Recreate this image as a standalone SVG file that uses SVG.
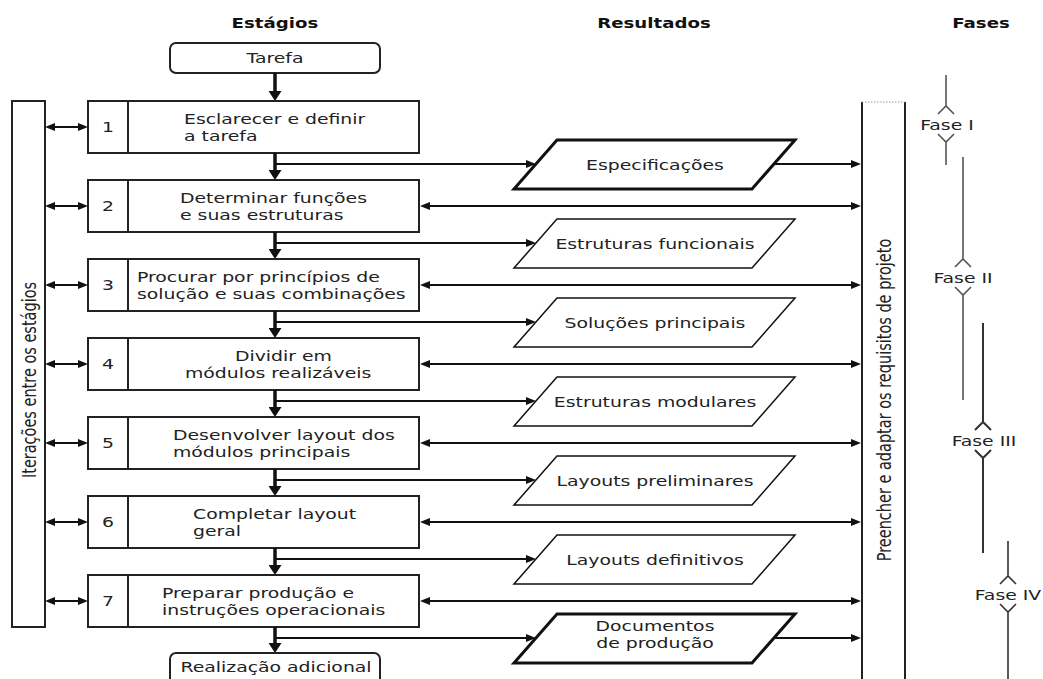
<svg xmlns="http://www.w3.org/2000/svg" width="1043" height="679" viewBox="0 0 1043 679">
<style>
.t{font-family:"DejaVu Sans",Verdana,sans-serif;font-size:14.5px;fill:#222}
.h{font-family:"DejaVu Sans",Verdana,sans-serif;font-size:14px;font-weight:bold;fill:#111}
.m{text-anchor:middle}
.box{fill:#fff;stroke:#222;stroke-width:2}
.col{fill:#fff;stroke:#222;stroke-width:2}
.par{fill:#fff;stroke:#111;stroke-width:1.5}
.parb{fill:#fff;stroke:#111;stroke-width:3}
.down{stroke:#111;stroke-width:3.5;fill:none}
.br{stroke:#111;stroke-width:2.2;fill:none}
.dbl{stroke:#111;stroke-width:2;fill:none}
.ph{stroke:#555;stroke-width:1.6;fill:none}
</style>
<defs>
<marker id="a" viewBox="0 0 10 8" refX="2" refY="4" markerWidth="10" markerHeight="8" markerUnits="userSpaceOnUse" orient="auto-start-reverse"><path d="M0,0 L10,4 L0,8 z" fill="#111"/></marker>
<marker id="b" viewBox="0 0 10 13" refX="2" refY="6.5" markerWidth="10" markerHeight="13" markerUnits="userSpaceOnUse" orient="auto"><path d="M0,0 L10,6.5 L0,13 z" fill="#111"/></marker>
</defs>

<g id="headers">
<text class="h m" transform="translate(275,28) scale(1.3,1)">Estágios</text>
<text class="h m" transform="translate(654,28) scale(1.3,1)">Resultados</text>
<text class="h m" transform="translate(981,28) scale(1.3,1)">Fases</text>
</g>

<g id="iteracoes">
<rect class="col" x="12" y="101" width="33" height="526"/>
<text class="t m" dominant-baseline="central" transform="translate(29,380) scale(1.3,1) rotate(-90)">Iterações entre os estágios</text>
</g>

<g id="requisitos">
<path d="M862,102 V690 M905,102 V690" stroke="#222" stroke-width="2" fill="none"/>
<path d="M862,102 H905" stroke="#999" stroke-width="1" stroke-dasharray="1.5,1.5" fill="none"/>
<text class="t m" dominant-baseline="central" transform="translate(884,400) scale(1.3,1) rotate(-90)">Preencher e adaptar os requisitos de projeto</text>
</g>

<g id="tarefa">
<rect class="box" x="170" y="43" width="210" height="30" rx="6"/>
<text class="t m" transform="translate(275,63) scale(1.3,1)">Tarefa</text>
</g>

<g id="step1">
<rect class="box" x="88" y="101" width="331" height="52"/><path d="M128,101 V153" stroke="#222" stroke-width="2"/>
<text class="t m" transform="translate(108,132) scale(1.3,1)">1</text>
<text class="t" transform="translate(184,124) scale(1.3,1)"><tspan x="0">Esclarecer e definir</tspan><tspan x="0" y="17">a tarefa</tspan></text>
</g>
<g id="step2">
<rect class="box" x="88" y="180" width="331" height="52"/><path d="M128,180 V232" stroke="#222" stroke-width="2"/>
<text class="t m" transform="translate(108,211) scale(1.3,1)">2</text>
<text class="t" transform="translate(180,203) scale(1.3,1)"><tspan x="0">Determinar funções</tspan><tspan x="0" y="17">e suas estruturas</tspan></text>
</g>
<g id="step3">
<rect class="box" x="88" y="259" width="331" height="52"/><path d="M128,259 V311" stroke="#222" stroke-width="2"/>
<text class="t m" transform="translate(108,290) scale(1.3,1)">3</text>
<text class="t" transform="translate(137,282) scale(1.3,1)"><tspan x="0">Procurar por princípios de</tspan><tspan x="0" y="17">solução e suas combinações</tspan></text>
</g>
<g id="step4">
<rect class="box" x="88" y="338" width="331" height="52"/><path d="M128,338 V390" stroke="#222" stroke-width="2"/>
<text class="t m" transform="translate(108,369) scale(1.3,1)">4</text>
<text class="t" transform="translate(235,361) scale(1.3,1)">Dividir em</text>
<text class="t" transform="translate(185,378) scale(1.3,1)">módulos realizáveis</text>
</g>
<g id="step5">
<rect class="box" x="88" y="417" width="331" height="52"/><path d="M128,417 V469" stroke="#222" stroke-width="2"/>
<text class="t m" transform="translate(108,448) scale(1.3,1)">5</text>
<text class="t" transform="translate(173,440) scale(1.3,1)"><tspan x="0">Desenvolver layout dos</tspan><tspan x="0" y="17">módulos principais</tspan></text>
</g>
<g id="step6">
<rect class="box" x="88" y="496" width="331" height="52"/><path d="M128,496 V548" stroke="#222" stroke-width="2"/>
<text class="t m" transform="translate(108,527) scale(1.3,1)">6</text>
<text class="t" transform="translate(193,519) scale(1.3,1)"><tspan x="0">Completar layout</tspan><tspan x="0" y="17">geral</tspan></text>
</g>
<g id="step7">
<rect class="box" x="88" y="575" width="331" height="52"/><path d="M128,575 V627" stroke="#222" stroke-width="2"/>
<text class="t m" transform="translate(108,606) scale(1.3,1)">7</text>
<text class="t" transform="translate(162,598) scale(1.3,1)"><tspan x="0">Preparar produção e</tspan><tspan x="0" y="17">instruções operacionais</tspan></text>
</g>

<g id="realizacao">
<rect class="box" x="170" y="653" width="210" height="40" rx="6"/>
<text class="t m" transform="translate(276,672) scale(1.3,1)">Realização adicional</text>
</g>

<g id="r1"><polygon class="parb" points="557,140 795,140 752,189 514,189"/><text class="t m" transform="translate(655,170) scale(1.3,1)">Especificações</text></g>
<g id="r2"><polygon class="par" points="557,219 795,219 752,268 514,268"/><text class="t m" transform="translate(655,249) scale(1.3,1)">Estruturas funcionais</text></g>
<g id="r3"><polygon class="par" points="557,298 795,298 752,347 514,347"/><text class="t m" transform="translate(655,328) scale(1.3,1)">Soluções principais</text></g>
<g id="r4"><polygon class="par" points="557,377 795,377 752,426 514,426"/><text class="t m" transform="translate(655,407) scale(1.3,1)">Estruturas modulares</text></g>
<g id="r5"><polygon class="par" points="557,456 795,456 752,505 514,505"/><text class="t m" transform="translate(655,486) scale(1.3,1)">Layouts preliminares</text></g>
<g id="r6"><polygon class="par" points="557,535 795,535 752,584 514,584"/><text class="t m" transform="translate(655,565) scale(1.3,1)">Layouts definitivos</text></g>
<g id="r7"><polygon class="parb" points="557,614 795,614 752,663 514,663"/><text class="t m" transform="translate(655,631) scale(1.3,1)"><tspan x="0">Documentos</tspan><tspan x="0" y="17">de produção</tspan></text></g>

<g id="fases">
<path class="ph" d="M946,75 V106 M938,114 L946,106 L954,114 M938,134 L946,142 L954,134 M946,142 V165"/>
<text class="t m" transform="translate(947,130) scale(1.3,1)">Fase I</text>
<path class="ph" d="M963,157 V259 M955,267 L963,259 L971,267 M955,287 L963,295 L971,287 M963,295 V400"/>
<text class="t m" transform="translate(963,283) scale(1.3,1)">Fase II</text>
<path class="ph" style="stroke:#333;stroke-width:2" d="M983,323 V422 M975,430 L983,422 L991,430 M975,450 L983,458 L991,450 M983,458 V553"/>
<text class="t m" transform="translate(984,446) scale(1.3,1)">Fase III</text>
<path class="ph" style="stroke:#333" d="M1008,541 V576 M1000,584 L1008,576 L1016,584 M1000,604 L1008,612 L1016,604 M1008,612 V690"/>
<text class="t m" transform="translate(1008,600) scale(1.3,1)">Fase IV</text>
</g>

<g id="connectors">
<path class="down" marker-end="url(#b)" d="M275,73 V93"/>
<path class="down" marker-end="url(#b)" d="M275,153 V172"/>
<path class="down" marker-end="url(#b)" d="M275,232 V251"/>
<path class="down" marker-end="url(#b)" d="M275,311 V330"/>
<path class="down" marker-end="url(#b)" d="M275,390 V409"/>
<path class="down" marker-end="url(#b)" d="M275,469 V488"/>
<path class="down" marker-end="url(#b)" d="M275,548 V567"/>
<path class="down" marker-end="url(#b)" d="M275,627 V645"/>

<path class="br" marker-end="url(#a)" d="M275,164 H528"/>
<path class="br" marker-end="url(#a)" d="M275,243 H528"/>
<path class="br" marker-end="url(#a)" d="M275,322 H528"/>
<path class="br" marker-end="url(#a)" d="M275,401 H528"/>
<path class="br" marker-end="url(#a)" d="M275,480 H528"/>
<path class="br" marker-end="url(#a)" d="M275,559 H528"/>
<path class="br" marker-end="url(#a)" d="M275,638 H528"/>

<path class="br" marker-end="url(#a)" d="M774,164 H853"/>
<path class="br" marker-end="url(#a)" d="M774,638 H853"/>

<path class="dbl" marker-start="url(#a)" marker-end="url(#a)" d="M53,127 H80"/>
<path class="dbl" marker-start="url(#a)" marker-end="url(#a)" d="M53,206 H80"/>
<path class="dbl" marker-start="url(#a)" marker-end="url(#a)" d="M53,285 H80"/>
<path class="dbl" marker-start="url(#a)" marker-end="url(#a)" d="M53,364 H80"/>
<path class="dbl" marker-start="url(#a)" marker-end="url(#a)" d="M53,443 H80"/>
<path class="dbl" marker-start="url(#a)" marker-end="url(#a)" d="M53,522 H80"/>
<path class="dbl" marker-start="url(#a)" marker-end="url(#a)" d="M53,601 H80"/>

<path class="dbl" marker-start="url(#a)" marker-end="url(#a)" d="M428,206 H853"/>
<path class="dbl" marker-start="url(#a)" marker-end="url(#a)" d="M428,285 H853"/>
<path class="dbl" marker-start="url(#a)" marker-end="url(#a)" d="M428,364 H853"/>
<path class="dbl" marker-start="url(#a)" marker-end="url(#a)" d="M428,443 H853"/>
<path class="dbl" marker-start="url(#a)" marker-end="url(#a)" d="M428,522 H853"/>
<path class="dbl" marker-start="url(#a)" marker-end="url(#a)" d="M428,601 H853"/>
</g>
</svg>
